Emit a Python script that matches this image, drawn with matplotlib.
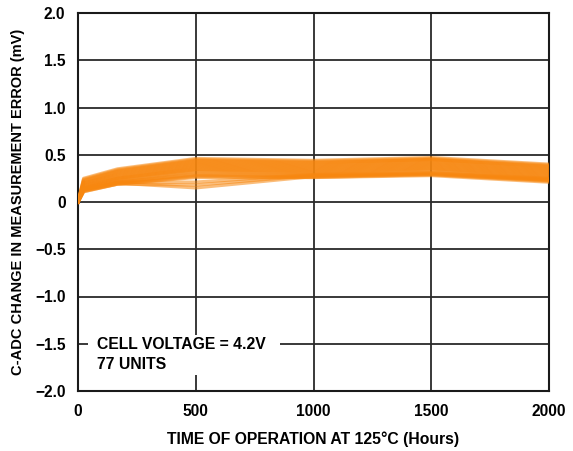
import matplotlib
matplotlib.use("Agg")
import matplotlib.pyplot as plt
from matplotlib.patches import Rectangle

plt.rcParams['font.family'] = ['Liberation Sans', 'DejaVu Sans']
plt.rcParams['font.weight'] = 'bold'

# Hours of operation at 125 °C where each unit was measured
hours = [0, 24, 168, 500, 1000, 1500, 2000]

# Change in C-ADC measurement error (mV), one row per unit (representative units)
unit_errors = [
    [0.0, 0.25, 0.35, 0.46, 0.44, 0.47, 0.40],
    [0.0, 0.24, 0.34, 0.45, 0.43, 0.46, 0.39],
    [0.0, 0.23, 0.33, 0.44, 0.42, 0.45, 0.38],
    [0.0, 0.22, 0.32, 0.43, 0.41, 0.45, 0.37],
    [0.0, 0.21, 0.31, 0.42, 0.40, 0.44, 0.36],
    [0.0, 0.20, 0.30, 0.41, 0.39, 0.43, 0.35],
    [0.0, 0.20, 0.29, 0.40, 0.38, 0.42, 0.34],
    [0.0, 0.19, 0.28, 0.39, 0.37, 0.41, 0.33],
    [0.0, 0.18, 0.27, 0.38, 0.36, 0.40, 0.32],
    [0.0, 0.17, 0.26, 0.37, 0.35, 0.39, 0.31],
    [0.0, 0.17, 0.25, 0.36, 0.34, 0.38, 0.30],
    [0.0, 0.16, 0.25, 0.35, 0.33, 0.37, 0.29],
    [0.0, 0.15, 0.24, 0.34, 0.32, 0.36, 0.28],
    [0.0, 0.15, 0.23, 0.33, 0.31, 0.35, 0.27],
    [0.0, 0.14, 0.22, 0.32, 0.30, 0.34, 0.26],
    [0.0, 0.13, 0.21, 0.30, 0.29, 0.33, 0.25],
    [0.0, 0.13, 0.21, 0.29, 0.28, 0.31, 0.24],
    [0.0, 0.12, 0.20, 0.28, 0.27, 0.30, 0.23],
    [0.0, 0.11, 0.19, 0.27, 0.26, 0.29, 0.22],
    [0.0, 0.11, 0.19, 0.26, 0.26, 0.28, 0.21],
    [0.0, 0.13, 0.20, 0.15, 0.27, 0.30, 0.24],
    [0.0, 0.12, 0.19, 0.18, 0.28, 0.29, 0.23],
    [0.0, 0.14, 0.21, 0.21, 0.29, 0.31, 0.25],
]

x_ticks = [0, 500, 1000, 1500, 2000]
y_ticks = [2.0, 1.5, 1.0, 0.5, 0.0, -0.5, -1.0, -1.5, -2.0]
y_tick_labels = ["2.0", "1.5", "1.0", "0.5", "0", "\u22120.5", "\u22121.0", "\u22121.5", "\u22122.0"]

fig = plt.figure(figsize=(5.73, 4.51), dpi=100)
ax = fig.add_axes([78 / 573, 60 / 451, 471 / 573, 378 / 451])

line_color = "#F7870F"
for row in unit_errors:
    ax.plot(hours, row, color=line_color, lw=2.4, alpha=0.55, zorder=3,
            solid_joinstyle='round')

ax.set_xlim(0, 2000)
ax.set_ylim(-2.0, 2.0)
ax.set_xticks(x_ticks)
ax.set_xticklabels([str(t) for t in x_ticks])
ax.set_yticks(y_ticks)
ax.set_yticklabels(y_tick_labels)
ax.tick_params(length=0, labelsize=11.2, pad=9)
for lbl in ax.get_xticklabels() + ax.get_yticklabels():
    lbl.set_fontweight('bold')

ax.grid(True, color="#2a2a2a", lw=1.3, zorder=1)
ax.set_axisbelow(True)
for sp in ax.spines.values():
    sp.set_linewidth(1.5)
    sp.set_color("#1a1a1a")

ax.set_xlabel("TIME OF OPERATION AT 125°C (Hours)", fontsize=11.3,
              fontweight='bold', labelpad=9)
ax.set_ylabel("C-ADC CHANGE IN MEASUREMENT ERROR (mV)", fontsize=10.5,
              fontweight='bold', labelpad=7)

# White panel behind the annotation
ax.add_patch(Rectangle((0.021, 0.042), 0.408, 0.106, transform=ax.transAxes,
                       facecolor='white', edgecolor='none', zorder=2))
ax.text(0.040, 0.122, "CELL VOLTAGE = 4.2V", transform=ax.transAxes,
        fontsize=11.3, fontweight='bold', va='center', ha='left', zorder=4)
ax.text(0.040, 0.069, "77 UNITS", transform=ax.transAxes,
        fontsize=11.3, fontweight='bold', va='center', ha='left', zorder=4)

fig.savefig("out.png", dpi=100)
